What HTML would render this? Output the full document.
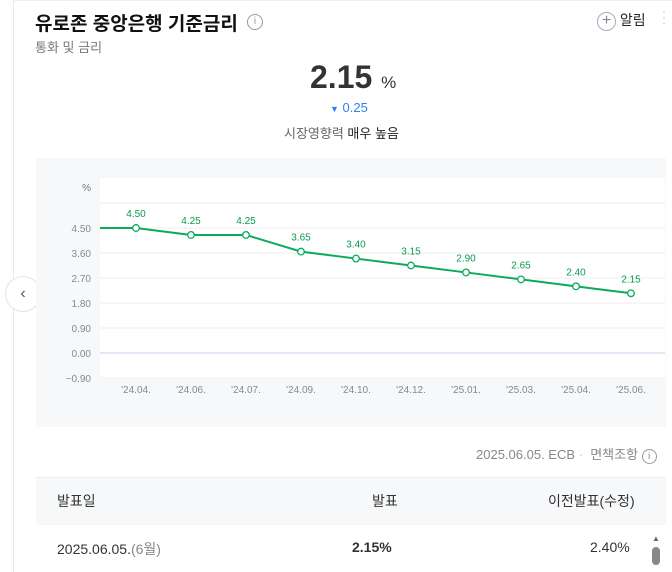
<!DOCTYPE html>
<html><head><meta charset="utf-8"><style>
body{margin:0;width:672px;height:572px;overflow:hidden;background:#fff;font-family:"Liberation Sans","Noto Sans CJK KR",sans-serif;position:relative}
.a{position:absolute;white-space:nowrap}
</style></head><body>
<div class="a" style="left:13px;top:0;width:1px;height:572px;background:#e8e9ec"></div>
<div class="a" style="left:13px;top:0;width:659px;height:1px;background:#eee"></div>
<div class="a" style="left:35px;top:9px;font-size:19px;font-weight:bold;color:#111">유로존 중앙은행 기준금리</div>
<div class="a" style="left:247px;top:14px;width:14px;height:14px;border:1px solid #999;border-radius:50%;font-size:10px;color:#999;text-align:center;line-height:14px">i</div>
<div class="a" style="left:35px;top:37px;font-size:13px;color:#777">통화 및 금리</div>
<div class="a" style="left:597px;top:10px;font-size:14px;color:#222"><span style="display:inline-block;width:17px;height:17px;border:1px solid #aab;border-radius:50%;text-align:center;line-height:16px;color:#889;font-size:16px;vertical-align:middle">+</span> 알림</div>
<div class="a" style="left:662px;top:8px;font-size:12px;color:#bbb;line-height:6px">·<br>·<br>·</div>
<div class="a" style="left:310px;top:59px;font-size:32px;font-weight:bold;color:#333">2.15 <span style="font-size:17px;font-weight:normal">%</span></div>
<div class="a" style="left:330px;top:100px;font-size:13px;color:#2d7ff9"><span style="font-size:9px">▼</span> 0.25</div>
<div class="a" style="left:284px;top:123px;font-size:13px;color:#666">시장영향력 <span style="color:#222">매우 높음</span></div>
<div class="a" style="left:5px;top:276px;width:34px;height:34px;border:1px solid #e2e3e6;border-radius:50%;background:#fff;color:#555;font-size:16px;text-align:center;line-height:33px">‹</div>
<svg class="a" style="left:0;top:0" width="672" height="572">
<rect x="36" y="158" width="630" height="269" fill="#f7f8fa"/>
<rect x="100" y="178" width="565" height="199" fill="#fff"/>
<g id="g"></g>
</svg>
<div class="a" style="left:476px;top:444px;font-size:13px;color:#888">2025.06.05. ECB <span style="color:#ccc">·</span> &nbsp;면책조항 <span style="display:inline-block;width:13px;height:13px;border:1px solid #999;border-radius:50%;font-size:10px;text-align:center;line-height:13px">i</span></div>
<div class="a" style="left:36px;top:477px;width:630px;height:47px;background:#f7f8fa;border-top:1px solid #eee"></div>
<div class="a" style="left:57px;top:491px;font-size:14px;color:#333">발표일</div>
<div class="a" style="left:372px;top:491px;font-size:14px;color:#333">발표</div>
<div class="a" style="left:548px;top:491px;font-size:14px;color:#333">이전발표(수정)</div>
<div class="a" style="left:57px;top:539px;font-size:14px;color:#333">2025.06.05.<span style="color:#888">(6월)</span></div>
<div class="a" style="left:352px;top:539px;font-size:14px;font-weight:bold;color:#333">2.15%</div>
<div class="a" style="left:590px;top:539px;font-size:14px;color:#333">2.40%</div>
<div class="a" style="left:652px;top:534px;font-size:8px;color:#666">▲</div>
<div class="a" style="left:652px;top:547px;width:8px;height:18px;border-radius:4px;background:#888"></div>
<script>
const categories=["'24.04.","'24.06.","'24.07.","'24.09.","'24.10.","'24.12.","'25.01.","'25.03.","'25.04.","'25.06."];
const values=[4.50,4.25,4.25,3.65,3.40,3.15,2.90,2.65,2.40,2.15];
const yTicks=[4.50,3.60,2.70,1.80,0.90,0.00,-0.90];
const yTickLabels=["4.50","3.60","2.70","1.80","0.90","0.00","\u22120.90"];
const NS="http://www.w3.org/2000/svg";
const g=document.getElementById('g');
function y(v){return 228+(4.5-v)*25/0.9;}
function x(i){return 136+i*55;}
function mk(t,a){const e=document.createElementNS(NS,t);for(const k in a)e.setAttribute(k,a[k]);g.appendChild(e);return e;}
let e=mk('line',{x1:100,x2:665,y1:y(5.4),y2:y(5.4),stroke:'#eee'});


yTicks.forEach((v,i)=>{
 if(v>-0.9){const l=mk('line',{x1:100,x2:665,y1:y(v),y2:y(v),stroke:v===0?'#c5d3ee':'#eee'});
 
 }
 const t=mk('text',{x:91,y:y(v)+4,'text-anchor':'end','font-size':10,fill:'#888'});t.textContent=yTickLabels[i];
 
 
});
const u=mk('text',{x:91,y:191,'text-anchor':'end','font-size':10,fill:'#777'});u.textContent='%';


let d='M100,'+y(values[0]);values.forEach((v,i)=>d+=' L'+x(i)+','+y(v));
const p=mk('path',{d:d,fill:'none',stroke:'#0aab5a','stroke-width':2});


values.forEach((v,i)=>{
 const c=mk('circle',{cx:x(i),cy:y(v),r:3.3,fill:'#fff',stroke:'#0aab5a','stroke-width':1.3});
 
 
 const t=mk('text',{x:x(i),y:y(v)-11,'text-anchor':'middle','font-size':10,fill:'#0a9a50'});t.textContent=v.toFixed(2);
 
 
 const xl=mk('text',{x:x(i),y:393,'text-anchor':'middle','font-size':10,fill:'#888'});xl.textContent=categories[i];
 
 
});
</script>
</body></html>
